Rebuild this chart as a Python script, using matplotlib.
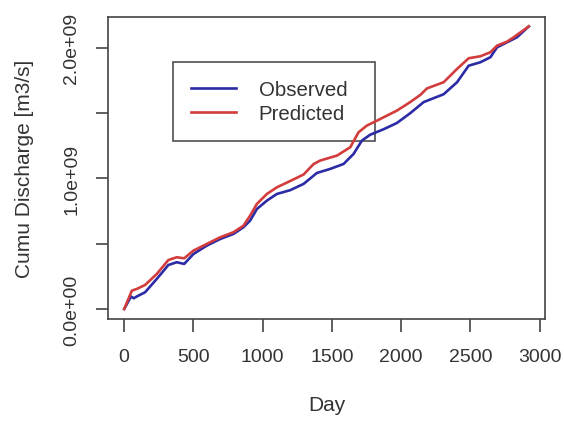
import matplotlib
matplotlib.use("Agg")
import matplotlib.pyplot as plt
from matplotlib.ticker import FixedLocator

plt.rcParams['font.family'] = ['Liberation Sans', 'DejaVu Sans']

obs_day = [1, 50, 70, 100, 152, 236, 320, 380, 434, 501, 597, 694, 790, 862,
           910, 959, 1031, 1103, 1199, 1296, 1392, 1488, 1585, 1657, 1717,
           1777, 1874, 1970, 2066, 2163, 2307, 2404, 2488, 2572, 2645, 2693,
           2765, 2837, 2922]
obs_val = [0.0, 0.095, 0.082, 0.10, 0.128, 0.23, 0.337, 0.358, 0.345, 0.421,
           0.485, 0.536, 0.575, 0.626, 0.677, 0.766, 0.83, 0.881, 0.91, 0.958,
           1.042, 1.073, 1.111, 1.188, 1.29, 1.335, 1.377, 1.425, 1.5, 1.585,
           1.645, 1.737, 1.864, 1.89, 1.929, 2.005, 2.043, 2.082, 2.165]

pred_day = [1, 56, 91, 152, 236, 320, 380, 434, 501, 597, 694, 790, 862, 910,
            959, 1031, 1103, 1199, 1296, 1368, 1416, 1537, 1633, 1693, 1753,
            1826, 1970, 2066, 2139, 2187, 2307, 2404, 2488, 2572, 2645, 2693,
            2765, 2813, 2922]
pred_val = [0.0, 0.14, 0.153, 0.184, 0.268, 0.375, 0.396, 0.388, 0.447, 0.498,
            0.549, 0.588, 0.638, 0.715, 0.805, 0.881, 0.932, 0.98, 1.03, 1.11,
            1.137, 1.175, 1.239, 1.354, 1.405, 1.443, 1.52, 1.585, 1.64, 1.69,
            1.737, 1.839, 1.921, 1.936, 1.967, 2.018, 2.048, 2.082, 2.165]

x_ticks = [0, 500, 1000, 1500, 2000, 2500, 3000]
y_ticks = [0, 0.5e9, 1.0e9, 1.5e9, 2.0e9]
y_tick_labels = ["0.0e+00", "", "1.0e+09", "", "2.0e+09"]

fig = plt.figure(figsize=(5.64, 4.27), dpi=100)
ax = fig.add_axes([108/564, 1-320/427, (545-108)/564, (320-18)/427])

ax.plot(obs_day, [v*1e9 for v in obs_val], color="#2b2ba6", lw=1.9, label="Observed")
ax.plot(pred_day, [v*1e9 for v in pred_val], color="#d23c3c", lw=1.9, label="Predicted")

ax.set_xlim(-116, 3039)
ax.set_ylim(-0.077e9, 2.237e9)
ax.xaxis.set_major_locator(FixedLocator(x_ticks))
ax.set_xticklabels([str(t) for t in x_ticks], fontsize=14, color="#333333")
ax.yaxis.set_major_locator(FixedLocator(y_ticks))
ax.set_yticklabels(y_tick_labels, fontsize=14, rotation=90, va="center", color="#333333")
ax.tick_params(axis="x", direction="out", length=9, width=1.2, color="#444444", pad=12)
ax.tick_params(axis="y", direction="out", length=9, width=1.2, color="#444444", pad=11)

for s in ax.spines.values():
    s.set_linewidth(1.2)
    s.set_color("#444444")

ax.set_xlabel("Day", fontsize=15, color="#333333")
ax.set_ylabel("Cumu Discharge [m3/s]", fontsize=15, color="#333333")
ax.xaxis.set_label_coords(0.5, (320 - 396) / 302)
ax.yaxis.set_label_coords((34 - 108) / 437, 0.5)

lx0 = (173 - 108) / 437
lw_ = (375 - 173) / 437
ltop = 1 - (63 - 18) / 302
lh = (141 - 63) / 302
leg = ax.legend(loc="upper left", bbox_to_anchor=(lx0, ltop - lh, lw_, lh), mode="expand",
                fontsize=14.7, frameon=True, fancybox=False, handlelength=2.2,
                handletextpad=1.1, borderpad=0.9, labelspacing=0.22, borderaxespad=0)
leg.get_frame().set_edgecolor("#222222")
leg.get_frame().set_facecolor("none")
leg.get_frame().set_linewidth(1.2)
leg.set_zorder(1)
for t in leg.get_texts():
    t.set_color("#333333")
for ln in ax.get_lines():
    ln.set_zorder(2)

fig.savefig("out.png", dpi=100)
